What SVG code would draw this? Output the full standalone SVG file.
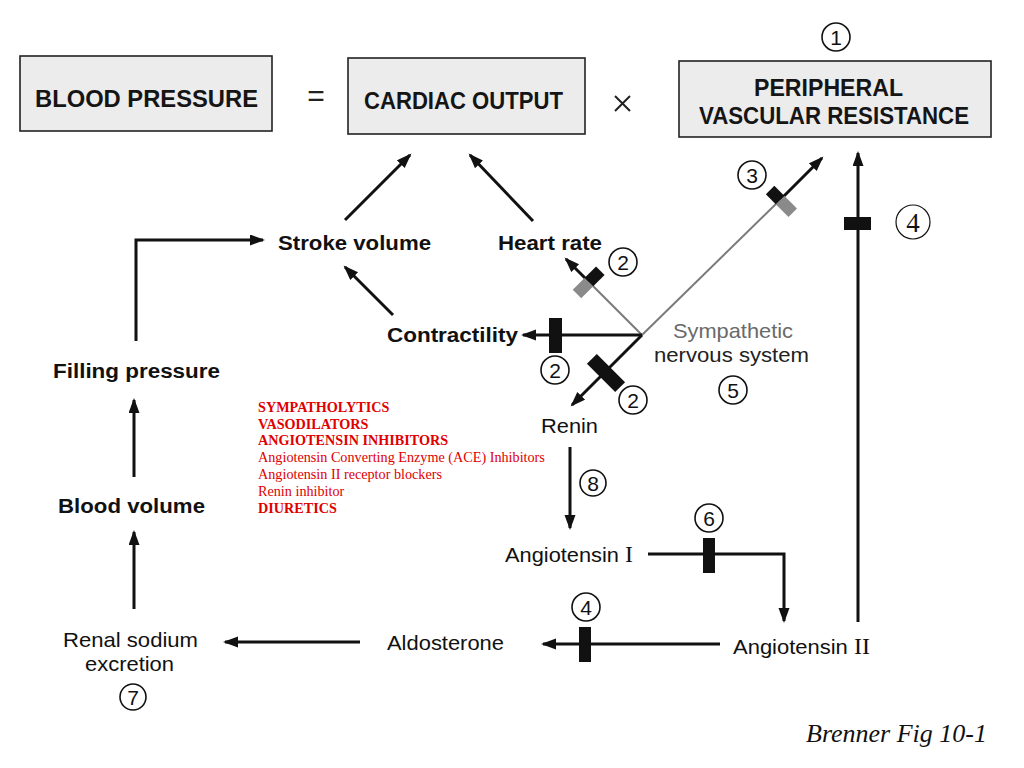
<svg xmlns="http://www.w3.org/2000/svg" width="1024" height="768" viewBox="0 0 1024 768">
<defs>
<marker id="ah" markerUnits="userSpaceOnUse" markerWidth="16" markerHeight="12" refX="13" refY="5.5" orient="auto">
<path d="M0,0 L15,5.5 L0,11 z" fill="#111"/>
</marker>
<style>
.box{fill:#ececec;stroke:#222;stroke-width:1.6}
.bt{font-family:"Liberation Sans",Arial,sans-serif;font-weight:bold;font-size:24px;fill:#151515}
.lb{font-family:"Liberation Sans",Arial,sans-serif;font-weight:bold;font-size:20px;fill:#111}
.lr{font-family:"Liberation Sans",Arial,sans-serif;font-size:21px;fill:#111}
.rom{font-family:"Liberation Serif","Times New Roman",serif}
.ln{stroke:#111;stroke-width:3;fill:none}
.gl{stroke:#7a7a7a;stroke-width:2;fill:none}
.ar{marker-end:url(#ah)}
.cir{fill:#fff;stroke:#111;stroke-width:1.6}
.cn{font-family:"Liberation Sans",Arial,sans-serif;font-size:21px;fill:#111;text-anchor:middle}
.red{font-family:"Liberation Serif","Times New Roman",serif;font-size:14.2px;fill:#e00000}
.rb{font-weight:bold}
.blk{fill:#111}
.gry{fill:#8a8a8a}
</style>
</defs>
<rect width="1024" height="768" fill="#fff"/>

<g id="blood-pressure">
<rect class="box" x="20" y="56" width="252" height="75"/>
<text class="bt" x="35" y="107" textLength="223" lengthAdjust="spacingAndGlyphs">BLOOD PRESSURE</text>
</g>
<text x="316" y="106" font-family="Liberation Sans,Arial,sans-serif" font-size="30" text-anchor="middle" fill="#222">=</text>
<g id="cardiac-output">
<rect class="box" x="348" y="58" width="237" height="76"/>
<text class="bt" x="364" y="109" textLength="199" lengthAdjust="spacingAndGlyphs">CARDIAC OUTPUT</text>
</g>
<path d="M615,96 L630,111 M630,96 L615,111" stroke="#222" stroke-width="2" fill="none"/>
<g id="pvr">
<rect class="box" x="679" y="61" width="312" height="76"/>
<text class="bt" x="754" y="96" textLength="149" lengthAdjust="spacingAndGlyphs">PERIPHERAL</text>
<text class="bt" x="699" y="124" textLength="270" lengthAdjust="spacingAndGlyphs">VASCULAR RESISTANCE</text>
<circle class="cir" cx="836" cy="37" r="14"/>
<text class="cn" x="836" y="44.5">1</text>
</g>

<g id="connectors">
<polyline class="ln ar" points="136,341 136,240 263,240"/>
<line class="ln ar" x1="345" y1="220" x2="410" y2="155"/>
<line class="ln ar" x1="533" y1="221" x2="470" y2="155"/>
<line class="ln ar" x1="393" y1="315" x2="345" y2="267"/>
<line class="ln ar" x1="134" y1="477" x2="134" y2="400"/>
<line class="ln ar" x1="134" y1="609" x2="134" y2="532"/>
<line class="ln ar" x1="360" y1="642" x2="225" y2="642"/>
<line class="ln ar" x1="720" y1="644" x2="543" y2="644"/>
<polyline class="ln ar" points="648,554 784,554 784,621"/>
<line class="ln ar" x1="570" y1="447" x2="570" y2="528"/>
<line class="ln ar" x1="858" y1="622" x2="858" y2="153"/>
<line class="gl" x1="642" y1="335" x2="780" y2="200"/>
<line class="ln ar" x1="780" y1="200" x2="822" y2="158"/>
<line class="gl" x1="642" y1="335" x2="589" y2="282"/>
<line class="ln ar" x1="589" y1="282" x2="566" y2="259"/>
<line class="ln ar" x1="642" y1="335" x2="523" y2="335"/>
<line class="ln ar" x1="642" y1="335" x2="572" y2="405"/>
</g>

<g id="blockers">
<g transform="translate(780,200) rotate(-45)">
<rect class="gry" x="-6" y="0" width="12" height="18"/>
<rect class="blk" x="-6" y="-14" width="12" height="14"/>
</g>
<g transform="translate(589,282) rotate(45)">
<rect class="gry" x="-6" y="0" width="12" height="17"/>
<rect class="blk" x="-6" y="-16" width="12" height="16"/>
</g>
<rect class="blk" x="549" y="318" width="13" height="35"/>
<g transform="translate(606,373) rotate(-45)">
<rect class="blk" x="-7" y="-20" width="14" height="40"/>
</g>
<rect class="blk" x="703" y="538" width="12" height="35"/>
<rect class="blk" x="579" y="627" width="12" height="35"/>
<rect class="blk" x="844" y="217" width="27" height="13"/>
</g>

<g id="stroke-volume"><text class="lb" x="278" y="250" textLength="153" lengthAdjust="spacingAndGlyphs">Stroke volume</text></g>
<g id="heart-rate">
<text class="lb" x="498" y="250" textLength="104" lengthAdjust="spacingAndGlyphs">Heart rate</text>
<circle class="cir" cx="623" cy="262" r="14"/><text class="cn" x="623" y="269.5">2</text>
</g>
<g id="contractility">
<text class="lb" x="387" y="342" textLength="131" lengthAdjust="spacingAndGlyphs">Contractility</text>
<circle class="cir" cx="555" cy="370" r="14"/><text class="cn" x="555" y="377.5">2</text>
</g>
<g id="filling-pressure"><text class="lb" x="53" y="378" textLength="167" lengthAdjust="spacingAndGlyphs">Filling pressure</text></g>
<g id="blood-volume"><text class="lb" x="58" y="513" textLength="147" lengthAdjust="spacingAndGlyphs">Blood volume</text></g>
<g id="renal-sodium">
<text class="lr" x="63" y="647" textLength="135" lengthAdjust="spacingAndGlyphs">Renal sodium</text>
<text class="lr" x="85" y="671" textLength="89" lengthAdjust="spacingAndGlyphs">excretion</text>
<circle class="cir" cx="133" cy="697" r="13"/><text class="cn" x="133" y="704.5">7</text>
</g>
<g id="aldosterone">
<text class="lr" x="387" y="650" textLength="117" lengthAdjust="spacingAndGlyphs">Aldosterone</text>
<circle class="cir" cx="586" cy="607" r="14"/><text class="cn" x="586" y="614.5">4</text>
</g>
<g id="angiotensin-2">
<text class="lr" x="733" y="654" textLength="137" lengthAdjust="spacingAndGlyphs">Angiotensin <tspan class="rom" font-size="23">II</tspan></text>
</g>
<g id="angiotensin-1">
<text class="lr" x="505" y="562" textLength="128" lengthAdjust="spacingAndGlyphs">Angiotensin <tspan class="rom" font-size="23">I</tspan></text>
<circle class="cir" cx="709" cy="518" r="14"/><text class="cn" x="709" y="525.5">6</text>
</g>
<g id="renin">
<text class="lr" x="541" y="433" textLength="57" lengthAdjust="spacingAndGlyphs">Renin</text>
<circle class="cir" cx="633" cy="400" r="14"/><text class="cn" x="633" y="407.5">2</text>
<circle class="cir" cx="593" cy="483" r="13"/><text class="cn" x="593" y="490.5">8</text>
</g>
<g id="sympathetic">
<text class="lr" x="673" y="338" textLength="120" lengthAdjust="spacingAndGlyphs" style="fill:#6a6a6a">Sympathetic</text>
<text class="lr" x="654" y="362" textLength="155" lengthAdjust="spacingAndGlyphs" style="fill:#222">nervous system</text>
<circle class="cir" cx="733" cy="390" r="14"/><text class="cn" x="733" y="397.5">5</text>
<circle class="cir" cx="752" cy="175" r="14"/><text class="cn" x="752" y="182.5">3</text>
</g>
<g id="pvr-blocker-label">
<circle cx="913" cy="222" r="17" fill="#fff" stroke="#111" stroke-width="1.2"/>
<text x="913" y="232" font-family="Liberation Serif,Times New Roman,serif" font-size="27" text-anchor="middle" fill="#111">4</text>
</g>

<g id="drug-list">
<text class="red rb" x="258" y="412">SYMPATHOLYTICS</text>
<text class="red rb" x="258" y="428.5">VASODILATORS</text>
<text class="red rb" x="258" y="445">ANGIOTENSIN INHIBITORS</text>
<text class="red" x="258" y="462">Angiotensin Converting Enzyme (ACE) Inhibitors</text>
<text class="red" x="258" y="479">Angiotensin II receptor blockers</text>
<text class="red" x="258" y="496">Renin inhibitor</text>
<text class="red rb" x="258" y="513">DIURETICS</text>
</g>

<text x="806" y="742" font-family="Liberation Serif,Times New Roman,serif" font-style="italic" font-size="26" fill="#111">Brenner Fig 10-1</text>
</svg>
